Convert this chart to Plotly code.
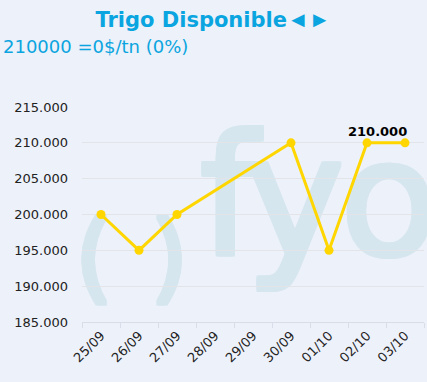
import plotly.graph_objects as go

categories = ["25/09", "26/09", "27/09", "28/09", "29/09", "30/09", "01/10", "02/10", "03/10"]
values = [200000, 195000, 200000, None, None, 210000, 195000, 210000, 210000]
y_tickvals = [185000, 190000, 195000, 200000, 205000, 210000, 215000]
y_ticktext = ["185.000", "190.000", "195.000", "200.000", "205.000", "210.000", "215.000"]
title_text = "Trigo Disponible"
title_arrows = "◄►"
subtitle_text = "210000 =0$/tn (0%)"
last_label = "210.000"

W, H = 427, 382
ML, MR, MT, MB = 82, 3, 107, 60
PW, PH = W - ML - MR, H - MT - MB

def px_x(p):
    return (p - ML) / PW

def px_y(p):
    return (H - MB - p) / PH

BG = "#EDF1F9"
BLUE = "#0AA5E0"
WM = "#D6E6EF"
GOLD = "#FFD600"

fig = go.Figure()
fig.add_trace(go.Scatter(
    x=categories, y=values, mode="lines+markers", connectgaps=True,
    line=dict(color=GOLD, width=3), marker=dict(color=GOLD, size=9),
    hoverinfo="skip", showlegend=False,
))

# watermark logo text (thickened with a same-colour text shadow)
s = 2
SHADOW = ", ".join(f"{dx}px {dy}px 0 {WM}" for dx, dy in
                   [(s, 0), (-s, 0), (0, s), (0, -s), (s, s), (-s, s), (s, -s), (-s, -s)])

def wm(text, cx, cy, size, w=300, h=320):
    fig.add_shape(
        type="rect", xref="paper", yref="paper",
        x0=px_x(cx - w / 2), x1=px_x(cx + w / 2),
        y0=px_y(cy + h / 2), y1=px_y(cy - h / 2),
        line=dict(width=0), fillcolor="rgba(0,0,0,0)", layer="below",
        label=dict(text=text, textposition="middle center",
                   font=dict(family="DejaVu Sans", size=size, color=WM, shadow=SHADOW)),
    )

wm("(", 94, 250, 98)
wm(")", 169, 250, 98)
wm("f", 229, 185, 168)
wm("y", 295, 185, 168)
wm("o", 389, 188, 160)

fig.add_annotation(
    x=categories[-1], y=values[-1], text="<b>" + last_label + "</b>",
    showarrow=False, xanchor="right", yanchor="bottom", xshift=4, yshift=2,
    font=dict(family="DejaVu Sans", size=13, color="#000000"),
)
fig.add_annotation(
    xref="paper", yref="paper", x=px_x(1), y=px_y(46), text=subtitle_text,
    showarrow=False, xanchor="left", yanchor="middle",
    font=dict(family="DejaVu Sans", size=18, color=BLUE),
)

fig.update_layout(
    width=W, height=H,
    margin=dict(l=ML, r=MR, t=MT, b=MB, pad=0, autoexpand=False),
    paper_bgcolor=BG, plot_bgcolor=BG,
    title=dict(text="<b>" + title_text + "<span style='font-family:Liberation Sans;font-size:22px'>"
               + title_arrows + "</span></b>",
               x=213 / W, xanchor="center",
               y=1 - 20 / H, yanchor="middle", yref="container",
               font=dict(family="DejaVu Sans", size=21, color=BLUE)),
    xaxis=dict(type="category", categoryorder="array", categoryarray=categories,
               tickson="boundaries", ticks="outside", ticklen=5, tickcolor="#D8DEE8",
               showline=True, linecolor="#D8DEE8", linewidth=1, showgrid=False,
               tickangle=-45, tickfont=dict(family="DejaVu Sans", size=13, color="#222222"),
               range=[-0.5, len(categories) - 0.5], fixedrange=True, automargin=False),
    yaxis=dict(range=[185000, 215000], tickvals=y_tickvals, ticktext=y_ticktext,
               showgrid=True, gridcolor="#E2E4E8", gridwidth=1, zeroline=False,
               showline=False, ticklabelstandoff=13, automargin=False,
               tickfont=dict(family="DejaVu Sans", size=13, color="#222222"), fixedrange=True),
)

fig.write_html("out.html", config={"displayModeBar": False},
               post_script="document.body.style.margin='0';document.body.style.background='" + BG + "';")
